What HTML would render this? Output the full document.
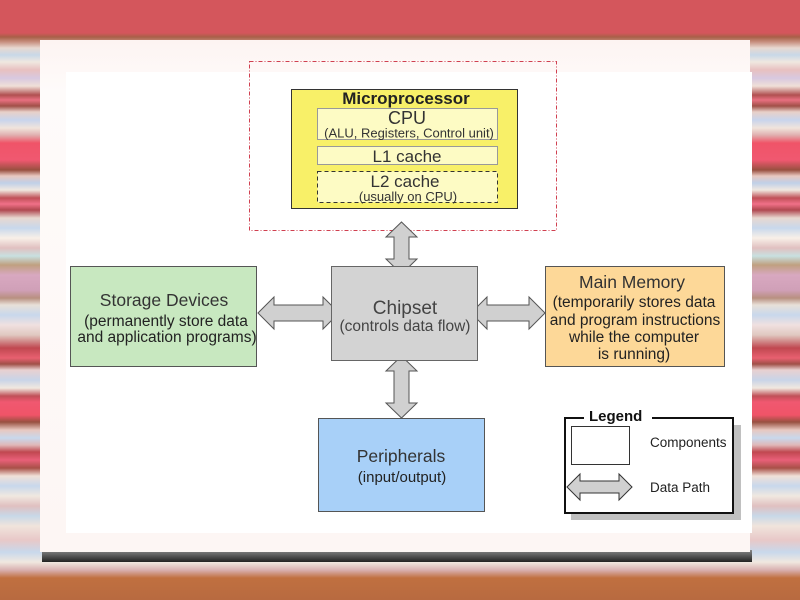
<!DOCTYPE html>
<html><head><meta charset="utf-8"><style>
html,body{margin:0;padding:0;width:800px;height:600px;overflow:hidden}
body{background:linear-gradient(to bottom,#d4565c 0,#d4565c 33px,#a86048 37px,#c89080 42px,#e8d8d0 48px,#c8d8e8 55px,#f0e8e0 62px,#e8c0c0 70px,#d8c8e0 78px,#f0e0d8 86px,#b05050 95px,#e87080 100px,#a05048 106px,#e8d0c8 112px,#c8d4ec 120px,#f0e4dc 128px,#e0b0b0 135px,#f05468 143px,#f05870 160px,#985040 170px,#e8c8c0 176px,#c0d0e8 183px,#f0e8e0 190px,#c05058 198px,#f07088 204px,#b04850 210px,#e8d8d0 218px,#c8d8ec 228px,#f8f0e8 238px,#e0c0c0 248px,#c8e0e0 256px,#c0a080 265px,#d8a8c0 275px,#d0a0b8 290px,#b89080 298px,#e8e0d8 305px,#c8d8ec 315px,#f0e0e0 325px,#e0c8c0 335px,#c04850 348px,#e86070 358px,#a05048 364px,#e8d0d0 370px,#c8d4e8 380px,#f0e8e0 388px,#c05058 396px,#f05870 402px,#f05468 415px,#985040 422px,#e8c8c0 430px,#c8d8ec 438px,#e0b8b8 445px,#c04850 452px,#e86078 460px,#a85048 468px,#f0e0d8 476px,#c8d8ec 486px,#f0e8e0 496px,#e0c0c0 506px,#c8d8e8 516px,#f0e4dc 526px,#e8c8c8 540px,#c8d8ec 552px,#f0e8e0 562px,#d8b0b0 570px,#c07040 578px,#b86a40 600px)}
</style></head><body>
<svg width="800" height="600" viewBox="0 0 800 600" xmlns="http://www.w3.org/2000/svg" style="position:absolute;left:0;top:0;font-family:'Liberation Sans',Arial,sans-serif">
<defs>
<linearGradient id="fr" x1="0" y1="0" x2="0" y2="1"><stop offset="0" stop-color="#fdf4f2"/><stop offset="0.1" stop-color="#fefbfa"/><stop offset="1" stop-color="#fdf6f4"/></linearGradient>
<linearGradient id="sh" x1="0" y1="0" x2="0" y2="1"><stop offset="0" stop-color="#888"/><stop offset="1" stop-color="#222"/></linearGradient>
</defs>
<rect x="42" y="550" width="710" height="12" fill="url(#sh)"/>
<rect x="40" y="40" width="710" height="512" fill="url(#fr)"/>
<rect x="66" y="72" width="686" height="461" fill="#fff"/>
<rect x="249.5" y="61.5" width="307" height="169" fill="none" stroke="#d04050" stroke-dasharray="4,2,1,2"/>
<rect x="291.5" y="89.5" width="226" height="119" fill="#f8f068" stroke="#333"/>
<text x="406" y="104" text-anchor="middle" font-size="17" font-weight="bold" fill="#222">Microprocessor</text>
<rect x="317.5" y="108.5" width="180" height="31" fill="#fdfbc4" stroke="#999"/>
<text x="407" y="124" text-anchor="middle" font-size="18" fill="#333">CPU</text>
<text x="409" y="137.5" text-anchor="middle" font-size="13" fill="#333">(ALU, Registers, Control unit)</text>
<rect x="317.5" y="146.5" width="180" height="18" fill="#fdfbc4" stroke="#999"/>
<text x="407" y="162" text-anchor="middle" font-size="17" fill="#333">L1 cache</text>
<rect x="317.5" y="171.5" width="180" height="31" fill="#fdfbc4" stroke="#333" stroke-dasharray="4,3"/>
<text x="405" y="187" text-anchor="middle" font-size="17" fill="#333">L2 cache</text>
<text x="408" y="201" text-anchor="middle" font-size="13" fill="#333">(usually on CPU)</text>
<g fill="#d0d0d0" stroke="#555">
<polygon points="401.5,222 417,237 409,237 409,259 417,259 401.5,274 386,259 394,259 394,237 386,237"/>
<polygon points="401.5,356 417,371 409,371 409,403 417,403 401.5,418 386,403 394,403 394,371 386,371"/>
<polygon points="258,313 274,297 274,305 323,305 323,297 339,313 323,329 323,321 274,321 274,329"/>
<polygon points="471,313 487,297 487,305 529,305 529,297 545,313 529,329 529,321 487,321 487,329"/>
</g>
<rect x="331.5" y="266.5" width="146" height="94" fill="#d3d3d3" stroke="#666"/>
<text x="405" y="314" text-anchor="middle" font-size="19" fill="#444">Chipset</text>
<text x="405" y="331" text-anchor="middle" font-size="15.5" fill="#444">(controls data flow)</text>
<rect x="70.5" y="266.5" width="186" height="100" fill="#c8e8c0" stroke="#555"/>
<text x="164" y="306" text-anchor="middle" font-size="17.5" fill="#333">Storage Devices</text>
<text x="166" y="326" text-anchor="middle" font-size="15.5" fill="#222">(permanently store data</text>
<text x="167" y="342" text-anchor="middle" font-size="15.5" fill="#222">and application programs)</text>
<rect x="545.5" y="266.5" width="179" height="100" fill="#fdd898" stroke="#555"/>
<text x="632" y="288" text-anchor="middle" font-size="17.5" fill="#333">Main Memory</text>
<text x="634" y="307" text-anchor="middle" font-size="15.5" fill="#222">(temporarily stores data</text>
<text x="635" y="325" text-anchor="middle" font-size="15.5" fill="#222">and program instructions</text>
<text x="634" y="342" text-anchor="middle" font-size="15.5" fill="#222">while the computer</text>
<text x="634" y="359" text-anchor="middle" font-size="15.5" fill="#222">is running)</text>
<rect x="318.5" y="418.5" width="166" height="93" fill="#a8d0f8" stroke="#555"/>
<text x="401" y="462" text-anchor="middle" font-size="17.5" fill="#333">Peripherals</text>
<text x="402" y="482" text-anchor="middle" font-size="15" fill="#222">(input/output)</text>
<rect x="571" y="425" width="170" height="95" fill="#c0c0c0"/>
<rect x="565" y="418" width="168" height="95" fill="#fff" stroke="#111" stroke-width="2"/>
<rect x="584" y="408" width="68" height="14" fill="#fff"/>
<text x="589" y="421" font-size="15" font-weight="bold" fill="#111">Legend</text>
<rect x="571.5" y="426.5" width="58" height="38" fill="#fff" stroke="#333"/>
<text x="650" y="447" font-size="13.5" fill="#222">Components</text>
<polygon points="567,487 580,474 580,481 619,481 619,474 632,487 619,500 619,493 580,493 580,500" fill="#d0d0d0" stroke="#333"/>
<text x="650" y="492" font-size="13.5" fill="#222">Data Path</text>
</svg>
</body></html>
